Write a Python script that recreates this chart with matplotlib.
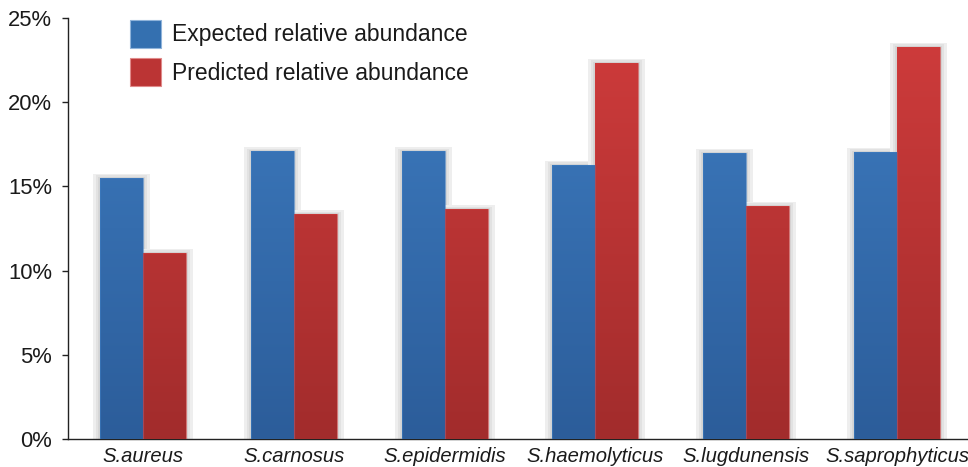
import numpy as np
import matplotlib
matplotlib.use("Agg")
import matplotlib.pyplot as plt
from matplotlib.patches import Patch
from matplotlib.colors import LinearSegmentedColormap

categories = ["S.aureus", "S.carnosus", "S.epidermidis", "S.haemolyticus",
              "S.lugdunensis", "S.saprophyticus"]
expected = [15.5, 17.1, 17.1, 16.3, 17.0, 17.05]
predicted = [11.05, 13.35, 13.65, 22.35, 13.85, 23.3]
series_labels = ["Expected relative abundance", "Predicted relative abundance"]
yticks = [0, 5, 10, 15, 20, 25]
ytick_labels = ["0%", "5%", "10%", "15%", "20%", "25%"]

plt.rcParams['font.family'] = ['Liberation Sans', 'DejaVu Sans']

fig = plt.figure(figsize=(9.68, 4.67), dpi=100)
ax = fig.add_axes([68/968, 28/467, 1 - 68/968, (439-18)/467])

x = np.arange(len(categories))
w = 0.285

px_x = 1/151.0          # data units per pixel horizontally
px_y = 25/421.0         # data units per pixel vertically

blue_top, blue_bot = "#3e7dc2", "#2c5d9a"
red_top, red_bot = "#d03c3c", "#a22c2c"

def draw_series(xpos, vals, ctop, cbot):
    # soft shadow halo
    for ext_x, ext_y, col in [(7, 4, "#eeeeee"), (4, 2.5, "#e2e2e2"), (2, 1, "#d6d6d6")]:
        ax.bar(xpos, [v + ext_y*px_y for v in vals], width=w + 2*ext_x*px_x,
               color=col, zorder=1, linewidth=0)
    bars = ax.bar(xpos, vals, width=w, color=cbot, zorder=2, linewidth=0)
    cmap = LinearSegmentedColormap.from_list("g", [cbot, ctop])
    grad = np.linspace(0, 1, 256).reshape(-1, 1)
    for b in bars:
        x0 = b.get_x()
        bw = b.get_width()
        im = ax.imshow(grad, cmap=cmap, origin="lower", aspect="auto",
                       extent=[x0, x0 + bw, 0, 25], zorder=3)
        im.set_clip_path(b)
    # thin lighter edge
    ax.bar(xpos, vals, width=w, fill=False, edgecolor=ctop, linewidth=0.8,
           alpha=0.6, zorder=4)

draw_series(x - w/2, expected, blue_top, blue_bot)
draw_series(x + w/2, predicted, red_top, red_bot)

ax.set_xlim(-0.497, 5.47)
ax.set_ylim(0, 25)

ax.spines['top'].set_visible(False)
ax.spines['right'].set_visible(False)
ax.spines['left'].set_color("#222222")
ax.spines['bottom'].set_color("#222222")
ax.spines['left'].set_linewidth(1.0)
ax.spines['bottom'].set_linewidth(1.0)

ax.set_yticks(yticks)
ax.set_yticklabels(ytick_labels, fontsize=15.8, color="#1a1a1a")
ax.tick_params(axis='y', direction='out', length=4.5, width=1, color="#222222", pad=7)
ax.set_xticks(x)
ax.set_xticklabels(categories, fontsize=14.6, style='italic', color="#1a1a1a")
ax.tick_params(axis='x', length=0, pad=6)

handles = [Patch(facecolor="#3470b0", edgecolor="#8fb3da", linewidth=0.8),
           Patch(facecolor="#bb3434", edgecolor="#e08a8a", linewidth=0.8)]
fs = 16.5
fpx = fs * 100 / 72
fig.legend(handles, series_labels, loc="upper left",
           bbox_to_anchor=(130/968, 1 - 19.8/467), bbox_transform=fig.transFigure,
           frameon=False, fontsize=fs, handlelength=31/fpx, handleheight=1.5,
           handletextpad=11/fpx, labelspacing=0.46, borderpad=0, borderaxespad=0,
           labelcolor="#1a1a1a")

fig.savefig("out.png", dpi=100)
